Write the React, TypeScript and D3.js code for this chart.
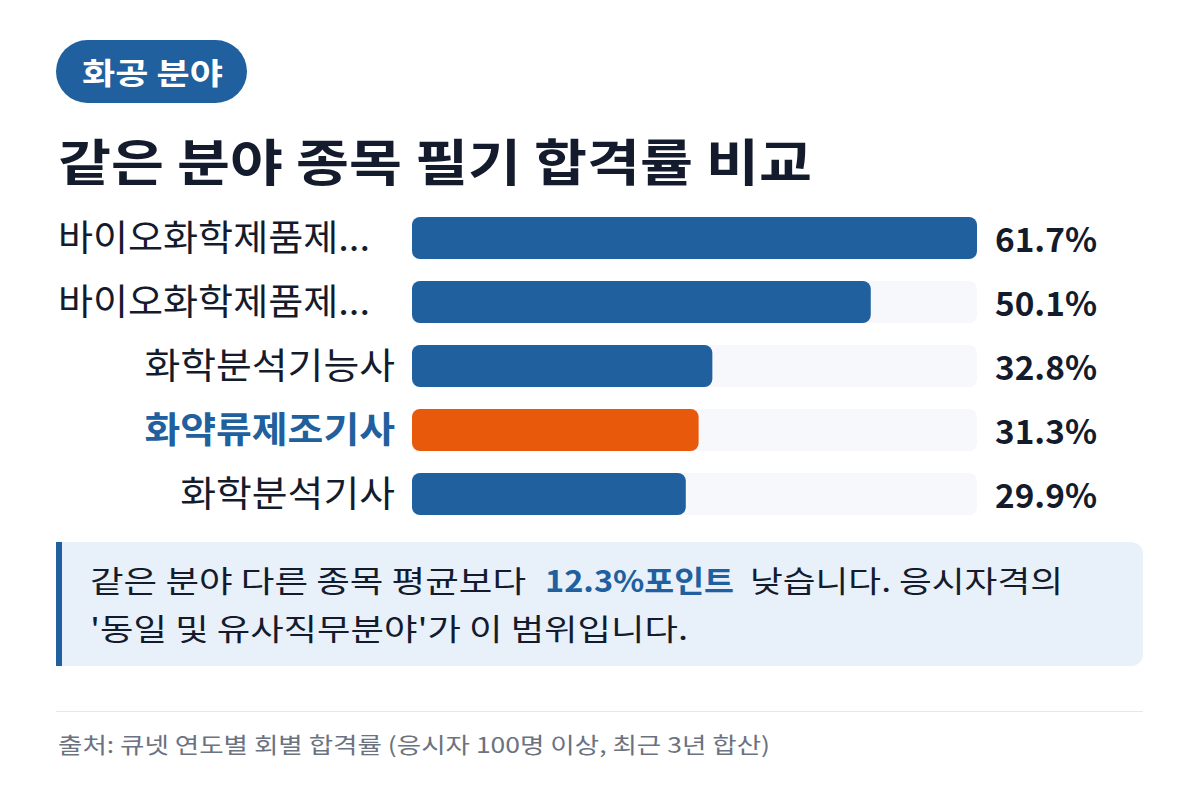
import React from "react";
import * as d3 from "d3";

const categories = ["바이오화학제품제조기사", "바이오화학제품제조산업기사", "화학분석기능사", "화약류제조기사", "화학분석기사"];
const passRates = [61.7, 50.1, 32.8, 31.3, 29.9];
const highlightCategory = "화약류제조기사";
const badgeText = "화공 분야";
const titleText = "같은 분야 종목 필기 합격률 비교";
const noteLine1Before = "같은 분야 다른 종목 평균보다";
const noteLine1Strong = "12.3%포인트";
const noteLine1After = "낮습니다. 응시자격의";
const noteLine2 = "'동일 및 유사직무분야'가 이 범위입니다.";
const sourceText = "출처: 큐넷 연도별 회별 합격률 (응시자 100명 이상, 최근 3년 합산)";

const W = 1200;
const H = 800;
const FONT = "'Noto Sans CJK KR', 'Noto Sans', sans-serif";
const BLUE = "#20609e";
const ORANGE = "#e8590c";
const DARK = "#141b2d";
const LABEL_EM = 35.8; // approx width per hangul glyph in reference

function displayLabel(s: string) {
  return s.length > 8 ? s.slice(0, 8) + "..." : s;
}

export default function App() {
  const x = d3.scaleLinear().domain([0, d3.max(passRates) as number]).range([412, 977]);
  const y = d3.scaleBand().domain(categories).range([206, 526]).paddingInner(0.34).paddingOuter(0.17);
  const bh = 42;
  return (
    <svg width={W} height={H} style={{ position: "absolute", left: 0, top: 0, fontFamily: FONT }}>
      <rect x={0} y={0} width={W} height={H} fill="#ffffff" />
      <rect x={56} y={40} width={191} height={63} rx={31.5} fill={BLUE} />
      <text x={82} y={84} fill="#fff" fontSize={30} fontWeight={700} textLength={141} lengthAdjust="spacingAndGlyphs">{badgeText}</text>
      <text x={58} y={181} fill={DARK} fontSize={50} fontWeight={700} textLength={754} lengthAdjust="spacingAndGlyphs">{titleText}</text>
      {categories.map((c, i) => {
        const cy = (y(c) as number) + y.bandwidth() / 2;
        const hl = c === highlightCategory;
        const truncated = c.length > 8;
        const lbl = displayLabel(c);
        const len = truncated ? 312 : c.length * LABEL_EM;
        return (
          <g key={c}>
            <rect x={412} y={cy - bh / 2} width={565} height={bh} rx={8} fill="#f6f8fb" />
            <rect x={412} y={cy - bh / 2} width={x(passRates[i]) - 412} height={bh} rx={8} fill={hl ? ORANGE : BLUE} />
            <text
              x={truncated ? 58 : 395 - len}
              y={cy + 13}
              fontSize={36}
              fontWeight={hl ? 700 : 400}
              fill={hl ? BLUE : DARK}
              textLength={len}
              lengthAdjust="spacingAndGlyphs"
            >
              {lbl}
            </text>
            <text x={995} y={cy + 14} fontSize={33} fontWeight={700} fill={DARK} textLength={102} lengthAdjust="spacingAndGlyphs">
              {passRates[i].toFixed(1)}%
            </text>
          </g>
        );
      })}
      <path d="M56,542 H1131 A12,12 0 0 1 1143,554 V654 A12,12 0 0 1 1131,666 H56 Z" fill="#e8f0fa" />
      <rect x={56} y={542} width={6} height={124} fill={BLUE} />
      <text x={90} y={592} fontSize={30} fill={DARK} textLength={436} lengthAdjust="spacingAndGlyphs">{noteLine1Before}</text>
      <text x={545} y={592} fontSize={30} fill={BLUE} fontWeight={700} textLength={189} lengthAdjust="spacingAndGlyphs">{noteLine1Strong}</text>
      <text x={750} y={592} fontSize={30} fill={DARK} textLength={313} lengthAdjust="spacingAndGlyphs">{noteLine1After}</text>
      <text x={90} y={640} fontSize={30} fill={DARK} textLength={598} lengthAdjust="spacingAndGlyphs">{noteLine2}</text>
      <line x1={56} x2={1143} y1={711.5} y2={711.5} stroke="#e5e7eb" strokeWidth={1} />
      <text x={58} y={753} fontSize={22} fill="#6b7280" textLength={712} lengthAdjust="spacingAndGlyphs">{sourceText}</text>
    </svg>
  );
}
